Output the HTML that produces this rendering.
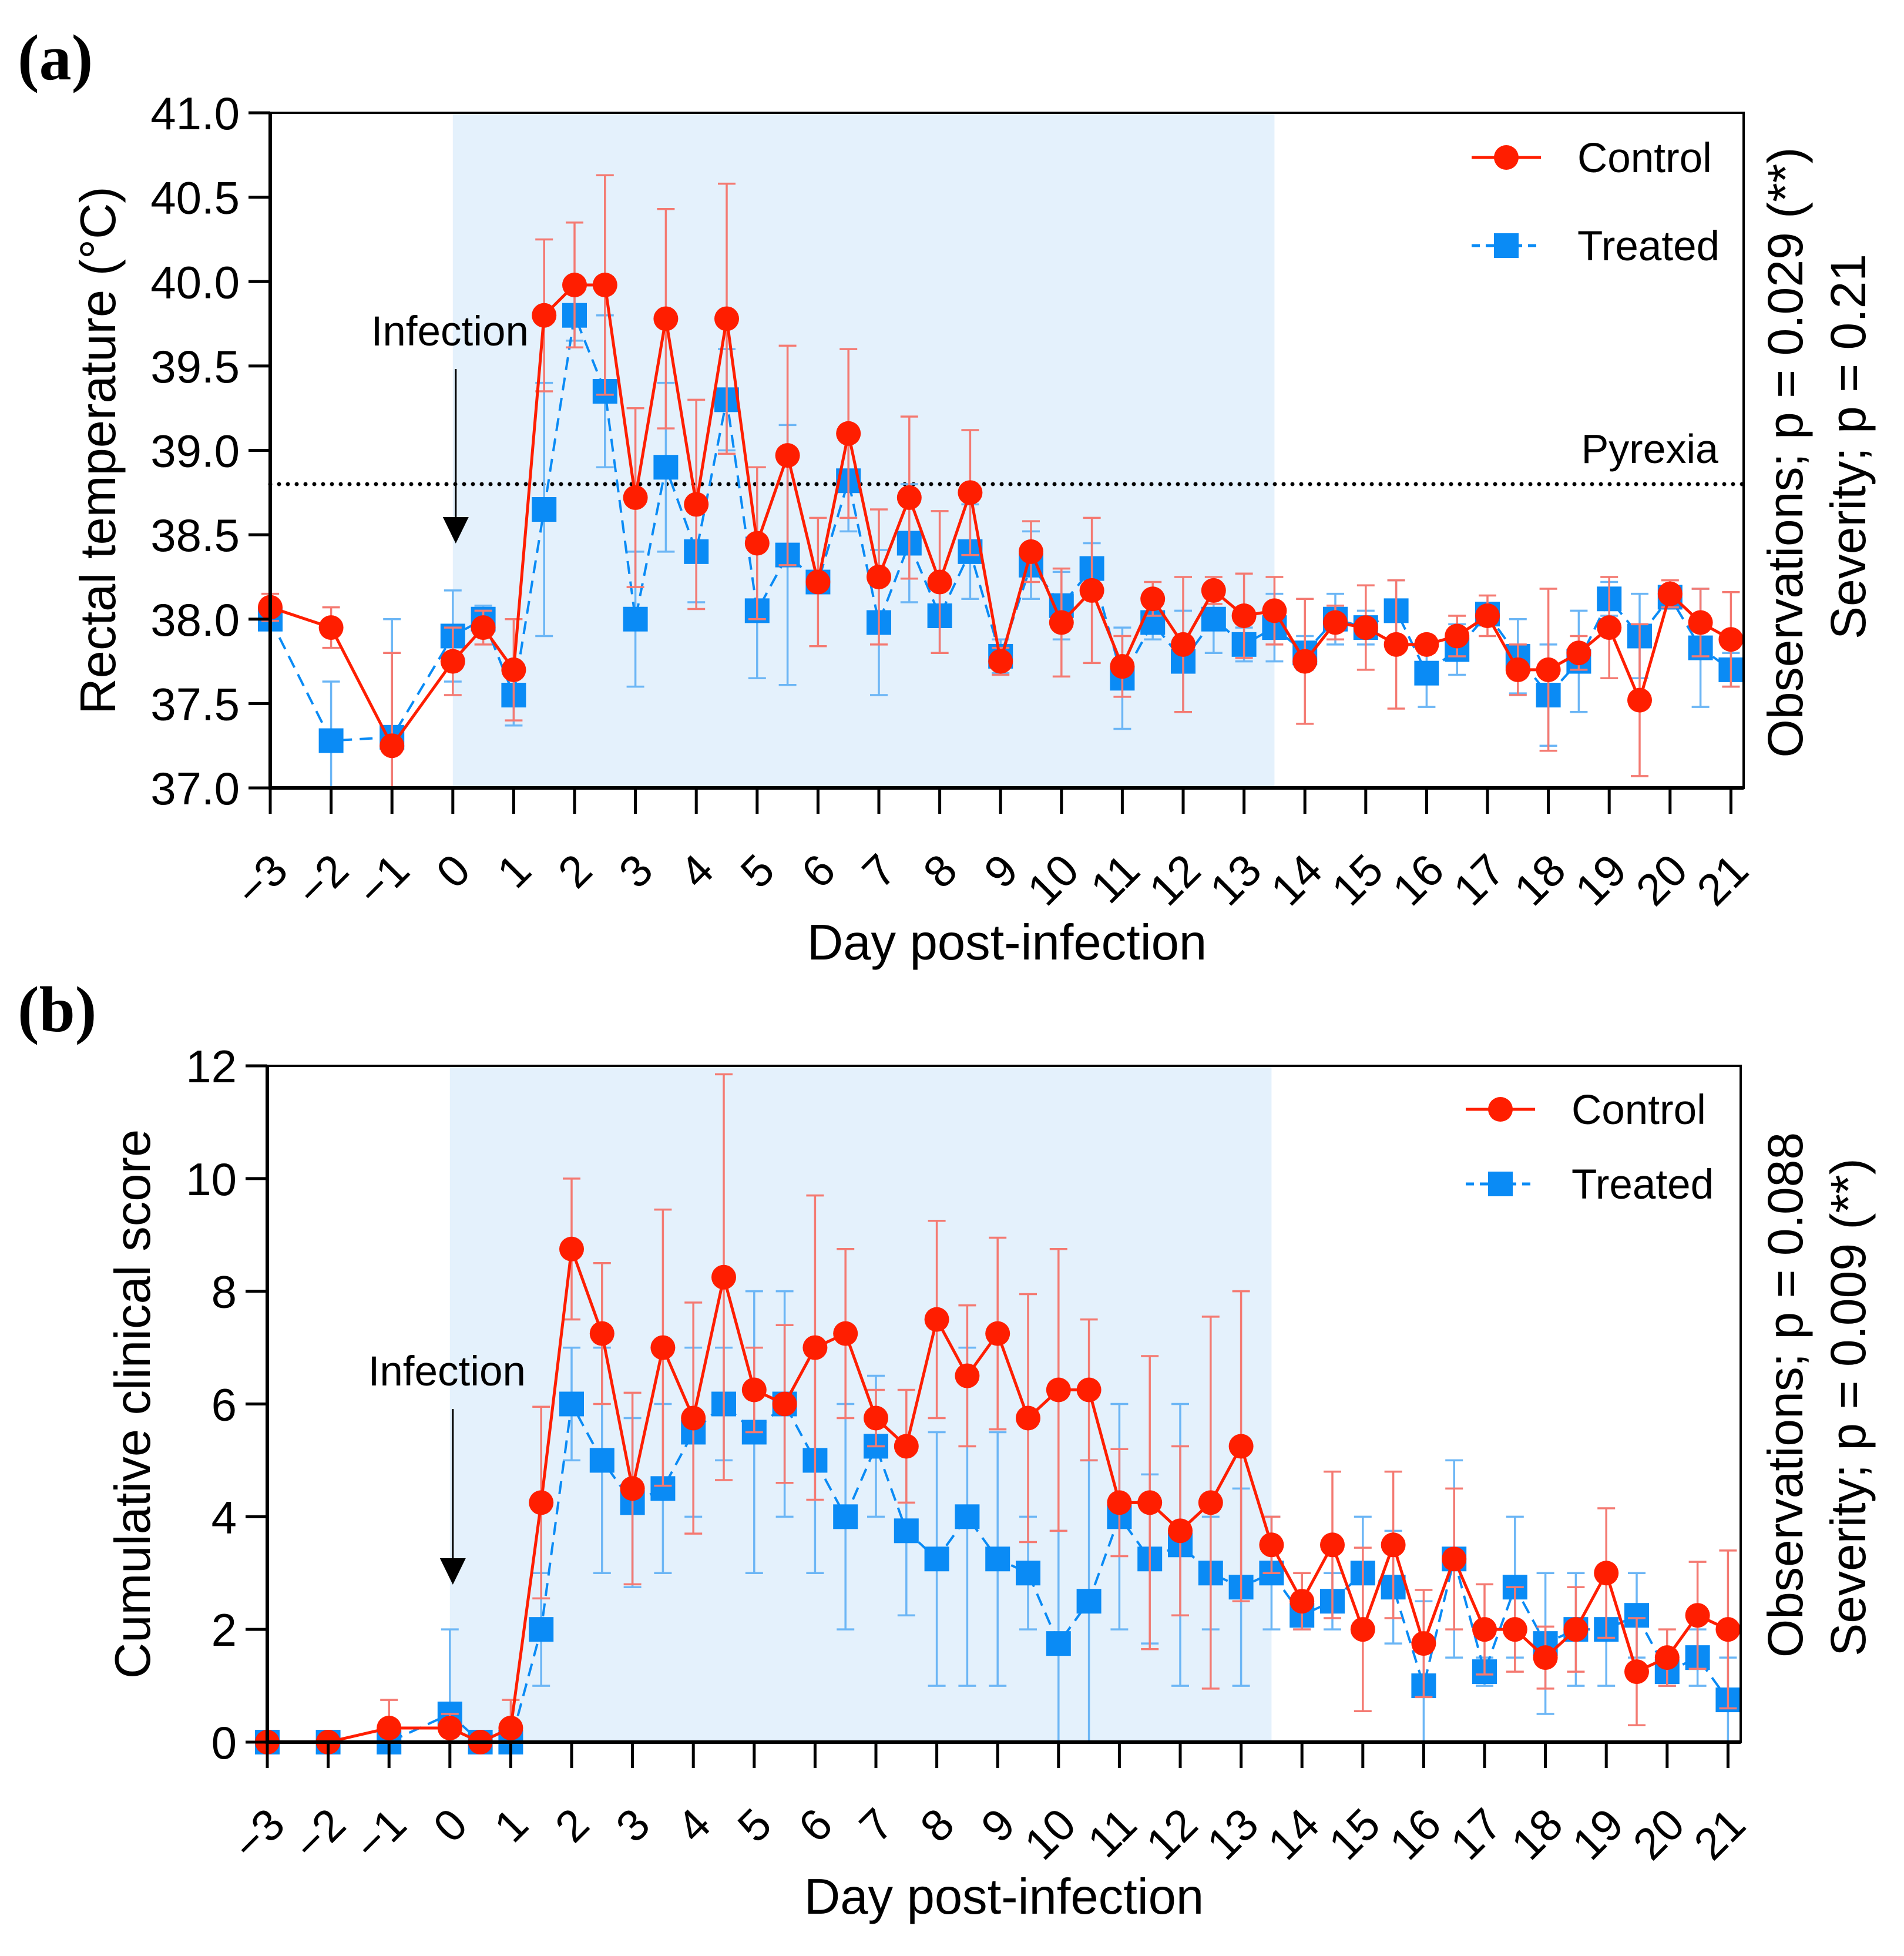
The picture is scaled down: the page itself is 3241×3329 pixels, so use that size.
<!DOCTYPE html>
<html><head><meta charset="utf-8"><style>
html,body{margin:0;padding:0;background:#fff;}
svg{display:block;font-family:"Liberation Sans",Arial,sans-serif;}
</style></head><body>
<svg id="fig" width="3241" height="3329" viewBox="0 0 3241 3329" xmlns="http://www.w3.org/2000/svg"></svg>
<script>
// ---- data ----
const days = [-3,-2,-1,0,0.5,1,1.5,2,2.5,3,3.5,4,4.5,5,5.5,6,6.5,7,7.5,8,8.5,9,9.5,10,10.5,11,11.5,12,12.5,13,13.5,14,14.5,15,15.5,16,16.5,17,17.5,18,18.5,19,19.5,20,20.5,21];
const tempControl = [38.07,37.95,37.25,37.75,37.95,37.7,39.8,39.98,39.98,38.72,39.78,38.68,39.78,38.45,38.97,38.22,39.1,38.25,38.72,38.22,38.75,37.75,38.4,37.98,38.17,37.72,38.12,37.85,38.17,38.02,38.05,37.75,37.98,37.95,37.85,37.85,37.9,38.02,37.7,37.7,37.8,37.95,37.52,38.15,37.98,37.88];
const tempControlErr = [0.08,0.12,0.55,0.2,0.1,0.3,0.45,0.37,0.65,0.53,0.65,0.62,0.8,0.45,0.65,0.38,0.5,0.4,0.48,0.42,0.37,0.08,0.18,0.32,0.43,0.18,0.1,0.4,0.08,0.25,0.2,0.37,0.1,0.25,0.38,0.05,0.12,0.12,0.15,0.48,0.1,0.3,0.45,0.08,0.2,0.28];
const tempTreated = [38.0,37.28,37.3,37.9,38.0,37.55,38.65,39.8,39.35,38.0,38.9,38.4,39.3,38.05,38.38,38.22,38.82,37.98,38.45,38.02,38.4,37.78,38.32,38.08,38.3,37.65,37.98,37.75,38.0,37.85,37.95,37.8,38.0,37.95,38.05,37.68,37.82,38.03,37.78,37.55,37.75,38.12,37.9,38.13,37.83,37.7];
const tempTreatedErr = [0.05,0.35,0.7,0.27,0.08,0.18,0.75,0.15,0.45,0.4,0.5,0.3,0.3,0.4,0.77,0.05,0.3,0.43,0.35,0.22,0.28,0.1,0.2,0.2,0.15,0.3,0.1,0.3,0.2,0.1,0.2,0.1,0.15,0.1,0.18,0.2,0.15,0.05,0.22,0.3,0.3,0.1,0.25,0.05,0.35,0.1];
const scoreControl = [0,0,0.25,0.25,0,0.25,4.25,8.75,7.25,4.5,7.0,5.75,8.25,6.25,6.0,7.0,7.25,5.75,5.25,7.5,6.5,7.25,5.75,6.25,6.25,4.25,4.25,3.75,4.25,5.25,3.5,2.5,3.5,2.0,3.5,1.75,3.25,2.0,2.0,1.5,2.0,3.0,1.25,1.5,2.25,2.0];
const scoreControlErr = [0,0,0.5,0.25,0,0.5,1.7,1.25,1.25,1.7,2.45,2.05,3.6,0.75,1.4,2.7,1.5,0.5,1.0,1.75,1.25,1.7,2.2,2.5,1.25,0.95,2.6,1.5,3.3,2.75,0.5,0.5,1.3,1.45,1.3,0.95,1.25,0.8,0.75,0.55,0.75,1.15,0.95,0.5,0.95,1.4];
const scoreTreated = [0,0,0,0.5,0,0,2.0,6.0,5.0,4.25,4.5,5.5,6.0,5.5,6.0,5.0,4.0,5.25,3.75,3.25,4.0,3.25,3.0,1.75,2.5,4.0,3.25,3.5,3.0,2.75,3.0,2.25,2.5,3.0,2.75,1.0,3.25,1.25,2.75,1.75,2.0,2.0,2.25,1.25,1.5,0.75];
const scoreTreatedErr = [0,0,0,1.5,0,0,1,1,2,1.5,1.5,1.5,1,2.5,2,2,2,1.25,1.5,2.25,3,2.25,1,2,2.5,2,1.5,2.5,1,1.75,1,0.25,0.5,1,1,1.5,1.75,0.25,1.25,1.25,1,1,0.75,0.25,0.5,0.75];
const xTickLabels = ["\u22123","\u22122","\u22121","0","1","2","3","4","5","6","7","8","9","10","11","12","13","14","15","16","17","18","19","20","21"];
const tempTicks = ["37.0","37.5","38.0","38.5","39.0","39.5","40.0","40.5","41.0"];
const scoreTicks = ["0","2","4","6","8","10","12"];
const pyrexiaLevel = [38.8];
const shadeRange = [0, 13.5];

const NS="http://www.w3.org/2000/svg";
const svg=document.getElementById('fig');
function mk(tag,attrs,parent){const e=document.createElementNS(NS,tag);for(const k in attrs)e.setAttribute(k,attrs[k]);(parent||svg).appendChild(e);return e;}
const RED="#ff1e00", BLUE="#0a8bf5", RED_E="#f47a72", BLUE_E="#6cb6f5";

function panel(p){
  const g=mk('g',{});
  
  
  const xs=d=>p.left+(d+3)*p.dayW;
  const ys=v=>p.bottom-(v-p.ymin)/(p.ymax-p.ymin)*(p.bottom-p.top);
  const sh=mk('rect',{x:xs(shadeRange[0]),y:p.top,width:xs(shadeRange[1])-xs(shadeRange[0]),height:p.bottom-p.top,fill:"#e4f1fc"},g);
  
  
  if(p.pyrexia){
    const py=mk('line',{x1:p.left,x2:p.right,y1:ys(pyrexiaLevel[0]),y2:ys(pyrexiaLevel[0]),stroke:"#000","stroke-width":7,"stroke-dasharray":"0 15","stroke-linecap":"round"},g);
    
    
    const pt=mk('text',{x:2925,y:ys(pyrexiaLevel[0])-36,"text-anchor":"end","font-size":70},g);
    pt.textContent="Pyrexia";
    
    
  }
  const series=[
    {v:p.treated,e:p.treatedErr,c:BLUE,ec:BLUE_E,dash:"22 13",sq:true,name:'treated'},
    {v:p.control,e:p.controlErr,c:RED,ec:RED_E,dash:null,sq:false,name:'control'}];
  series.forEach(s=>{
    const sg=mk('g',{},g);
    
    
    days.forEach((d,i)=>{
      if(s.e[i]<=0)return;
      const x=xs(d),y1=ys(Math.max(p.ymin,s.v[i]-s.e[i])),y2=ys(Math.min(p.ymax,s.v[i]+s.e[i]));
      const eb=mk('path',{d:`M${x},${y1}V${y2}M${x-15},${y1}H${x+15}M${x-15},${y2}H${x+15}`,stroke:s.ec,"stroke-width":3.5,fill:"none"},sg);
      
      
    });
    const pts=days.map((d,i)=>xs(d)+","+ys(s.v[i])).join(" ");
    const ln=mk('polyline',{points:pts,fill:"none",stroke:s.c,"stroke-width":s.sq?4:5},sg);
    if(s.dash)ln.setAttribute('stroke-dasharray',s.dash);
    
    
    days.forEach((d,i)=>{
      let m;
      if(s.sq)m=mk('rect',{x:xs(d)-21,y:ys(s.v[i])-21,width:42,height:42,fill:s.c},sg);
      else m=mk('circle',{cx:xs(d),cy:ys(s.v[i]),r:21,fill:s.c},sg);
      
      
    });
  });
  const ax=mk('path',{d:`M${p.left},${p.top}H${p.right}V${p.bottom}H${p.left}Z`,fill:"none",stroke:"#000","stroke-width":4},g);
  
  
  const axl=mk('path',{d:`M${p.left},${p.top}V${p.bottom}H${p.right}`,fill:"none",stroke:"#000","stroke-width":6},g);
  
  
  p.yTicks.forEach((t,i)=>{
    const y=ys(parseFloat(t));
    const tk=mk('line',{x1:p.left-37,x2:p.left,y1:y,y2:y,stroke:"#000","stroke-width":5},g);
    
    
    const tl=mk('text',{x:p.left-52,y:y+28,"text-anchor":"end","font-size":78},g);
    tl.textContent=t;
    
    
  });
  xTickLabels.forEach((t,i)=>{
    const d=i-3, x=xs(d);
    const tk=mk('line',{x1:x,x2:x,y1:p.bottom,y2:p.bottom+44,stroke:"#000","stroke-width":5},g);
    
    
    const ax_=x+34, ay=p.bottom+145;
    const tl=mk('text',{x:ax_,y:ay,"text-anchor":"end","font-size":76,transform:`rotate(-45 ${ax_} ${ay})`},g);
    tl.textContent=t;
    
    
  });
  const xt=mk('text',{x:(p.left+p.right)/2,y:p.bottom+292,"text-anchor":"middle","font-size":85},g);
  xt.textContent="Day post-infection";
  
  
  const yt=mk('text',{x:0,y:0,"text-anchor":"middle","font-size":85,transform:`translate(${p.yTitleX},${(p.top+p.bottom)/2}) rotate(-90)`},g);
  yt.textContent=p.yTitle;
  
  
  const r1=mk('text',{x:0,y:0,"text-anchor":"middle","font-size":84,transform:`translate(3068,${p.r1y}) rotate(-90)`},g);
  r1.textContent=p.r1;
  
  
  const r2=mk('text',{x:0,y:0,"text-anchor":"middle","font-size":84,transform:`translate(3175,${p.r2y}) rotate(-90)`},g);
  r2.textContent=p.r2;
  
  
  const pl=mk('text',{x:30,y:p.letterY,"font-size":110,"font-weight":"bold","font-family":"Liberation Serif, serif"},g);
  pl.textContent=p.letter;
  
  
  const it=mk('text',{x:xs(0)-5,y:p.infY,"text-anchor":"middle","font-size":71},g);
  it.textContent="Infection";
  
  
  const ar=mk('path',{d:`M${xs(0)+5},${p.infY+40}V${p.arrowTip-40}`,stroke:"#000","stroke-width":3},g);
  
  
  const ah=mk('path',{d:`M${xs(0)-17},${p.arrowTip-45}H${xs(0)+27}L${xs(0)+5},${p.arrowTip}Z`,fill:"#000"},g);
  
  
  const lg=mk('g',{},g);
  
  
  [[p.legY1,RED,null,false,"Control"],[p.legY2,BLUE,"14 10",true,"Treated"]].forEach(L=>{
    const l=mk('line',{x1:p.legX,x2:p.legX+118,y1:L[0],y2:L[0],stroke:L[1],"stroke-width":5},lg);
    if(L[2])l.setAttribute('stroke-dasharray',L[2]);
    
    
    let m;
    if(L[3])m=mk('rect',{x:p.legX+59-21,y:L[0]-21,width:42,height:42,fill:L[1]},lg);
    else m=mk('circle',{cx:p.legX+59,cy:L[0],r:21,fill:L[1]},lg);
    
    
    const t=mk('text',{x:p.legX+180,y:L[0]+25,"font-size":71},lg);
    t.textContent=L[4];
    
    
  });
}
panel({name:'panel-a-temperature',left:460,right:2968,top:192,bottom:1341,dayW:103.6,ymin:37,ymax:41,
  control:tempControl,controlErr:tempControlErr,treated:tempTreated,treatedErr:tempTreatedErr,yTicks:tempTicks,pyrexia:true,
  yTitle:"Rectal temperature (\u00B0C)",yTitleX:196,r1:"Observations; p = 0.029 (**)",r1y:770,r2:"Severity; p = 0.21",r2y:760,
  letter:"(a)",letterY:135,infY:588,arrowTip:925,legX:2505,legY1:268,legY2:418});
panel({name:'panel-b-clinical-score',left:455,right:2963,top:1814,bottom:2965,dayW:103.6,ymin:0,ymax:12,
  control:scoreControl,controlErr:scoreControlErr,treated:scoreTreated,treatedErr:scoreTreatedErr,yTicks:scoreTicks,pyrexia:false,
  yTitle:"Cumulative clinical score",yTitleX:255,r1:"Observations; p = 0.088",r1y:2374,r2:"Severity; p = 0.009 (**)",r2y:2395,
  letter:"(b)",letterY:1755,infY:2358,arrowTip:2697,legX:2495,legY1:1888,legY2:2015});
</script>
</body></html>
